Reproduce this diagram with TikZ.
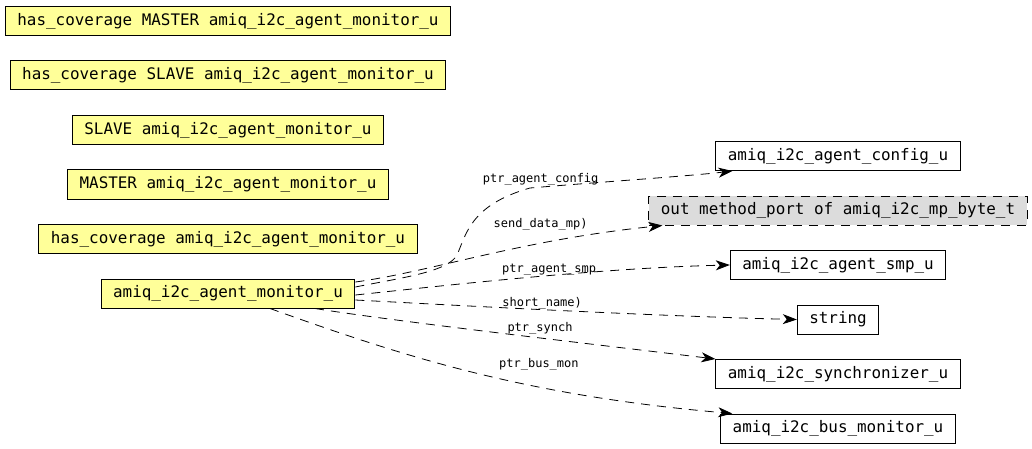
\documentclass[tikz,border=0pt]{standalone}
\usepackage{fontspec}
\setmonofont{DejaVu Sans Mono}
\usetikzlibrary{positioning,arrows.meta}
\definecolor{unityellow}{RGB}{255,255,153}
\definecolor{portgray}{RGB}{220,220,220}

\begin{document}
\begin{tikzpicture}[x=1pt, y=-1pt,
  unit/.style={draw, line width=1pt, fill=unityellow, minimum height=29pt,
               inner xsep=12pt, inner ysep=0pt,
               font=\ttfamily\fontsize{15.9}{19}\selectfont},
  type/.style={unit, fill=white},
  port/.style={type, fill=portgray, dash pattern=on 9pt off 7pt},
  ref/.style={-{Stealth[length=14pt, width=10pt, inset=4pt]}, line width=0.8pt,
              dash pattern=on 9pt off 7pt},
  lbl/.style={font=\ttfamily\fontsize{12}{14}\selectfont, inner sep=1pt},
]
  \useasboundingbox (0,0) rectangle (1032,449);

  % struct and its extensions
  \node[unit] (mon) at (228,293.5) {amiq\_i2c\_agent\_monitor\_u};
  \node[unit, above=24.5pt of mon] (cov) {has\_coverage amiq\_i2c\_agent\_monitor\_u};
  \node[unit, above=24.5pt of cov] (mst) {MASTER amiq\_i2c\_agent\_monitor\_u};
  \node[unit, above=24.5pt of mst] (slv) {SLAVE amiq\_i2c\_agent\_monitor\_u};
  \node[unit, above=24.5pt of slv] (covS) {has\_coverage SLAVE amiq\_i2c\_agent\_monitor\_u};
  \node[unit, above=24.5pt of covS] (covM) {has\_coverage MASTER amiq\_i2c\_agent\_monitor\_u};

  % referenced types
  \node[type] (config) at (838,156) {amiq\_i2c\_agent\_config\_u};
  \node[port, below=24.5pt of config] (mport) {out method\_port of amiq\_i2c\_mp\_byte\_t};
  \node[type, below=24.5pt of mport] (smp) {amiq\_i2c\_agent\_smp\_u};
  \node[type, below=24.5pt of smp] (str) {string};
  \node[type, below=24.5pt of str] (synch) {amiq\_i2c\_synchronizer\_u};
  \node[type, below=24.5pt of synch] (busmon) {amiq\_i2c\_bus\_monitor\_u};

  \draw[ref] ([yshift=6.5pt]mon.east) .. controls (400,278) and (448,272) .. (457,255)
    .. controls (466,235) and (470,205) .. (530,188)
    .. controls (600,182) and (690,176) .. node[lbl, pos=0.05, above]{ptr\_agent\_config}
    ([xshift=17pt]config.south west);
  \draw[ref] ([yshift=11.5pt]mon.east) .. controls (430,272) and (520,240) ..
    node[lbl, pos=0.68, above=12pt]{send\_data\_mp)} ([xshift=14pt]mport.south west);
  \draw[ref] ([yshift=-1.5pt]mon.east) .. controls (450,285) and (600,268) ..
    node[lbl, pos=0.55, above=-1pt]{ptr\_agent\_smp} (smp.west);
  \draw[ref] ([yshift=-6.5pt]mon.east) .. controls (450,305) and (650,316) ..
    node[lbl, pos=0.47, above=-1pt]{short\_name)} (str.west);
  \draw[ref] ([xshift=87pt]mon.south) .. controls (400,322) and (600,345) ..
    node[lbl, pos=0.58, above=2pt]{ptr\_synch} (synch.north west);
  \draw[ref] ([xshift=42pt]mon.south) .. controls (400,355) and (520,395) ..
    node[lbl, pos=0.65, above=15pt]{ptr\_bus\_mon} ([xshift=12pt]busmon.north west);
\end{tikzpicture}
\end{document}
